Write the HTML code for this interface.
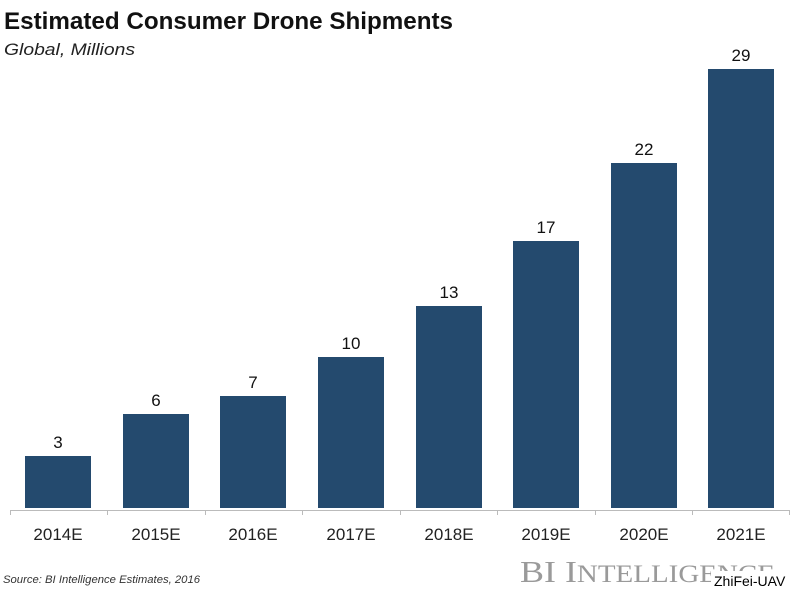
<!DOCTYPE html>
<html><head><meta charset="utf-8"><style>
body{margin:0;background:#fff;}
svg{display:block}
</style></head><body>
<svg width="800" height="590" xmlns="http://www.w3.org/2000/svg" font-family="Liberation Sans, sans-serif">
<rect width="800" height="590" fill="#fff"/>
<text x="4" y="29" font-size="24" font-weight="bold" fill="#111" textLength="449" lengthAdjust="spacingAndGlyphs">Estimated Consumer Drone Shipments</text>
<text x="4" y="55" font-size="17" font-style="italic" fill="#222" textLength="131" lengthAdjust="spacingAndGlyphs">Global, Millions</text>
<g fill="#244a6e">
<rect x="25" y="456" width="66" height="52"/>
<rect x="123" y="414" width="66" height="94"/>
<rect x="220" y="396" width="66" height="112"/>
<rect x="318" y="357" width="66" height="151"/>
<rect x="416" y="306" width="66" height="202"/>
<rect x="513" y="241" width="66" height="267"/>
<rect x="611" y="163" width="66" height="345"/>
<rect x="708" y="69" width="66" height="439"/>
</g>
<g font-size="17" fill="#111" text-anchor="middle">
<text x="58" y="448">3</text>
<text x="156" y="406">6</text>
<text x="253" y="388">7</text>
<text x="351" y="349">10</text>
<text x="449" y="298">13</text>
<text x="546" y="233">17</text>
<text x="644" y="155">22</text>
<text x="741" y="61">29</text>
</g>
<g stroke="#bbb" stroke-width="1">
<line x1="10" y1="510.5" x2="790" y2="510.5"/>
<line x1="10.5" y1="510" x2="10.5" y2="515"/>
<line x1="107.5" y1="510" x2="107.5" y2="515"/>
<line x1="205.5" y1="510" x2="205.5" y2="515"/>
<line x1="302.5" y1="510" x2="302.5" y2="515"/>
<line x1="400.5" y1="510" x2="400.5" y2="515"/>
<line x1="497.5" y1="510" x2="497.5" y2="515"/>
<line x1="595.5" y1="510" x2="595.5" y2="515"/>
<line x1="692.5" y1="510" x2="692.5" y2="515"/>
<line x1="789.5" y1="510" x2="789.5" y2="515"/>
</g>
<g font-size="17" fill="#222" text-anchor="middle">
<text x="58" y="540">2014E</text>
<text x="156" y="540">2015E</text>
<text x="253" y="540">2016E</text>
<text x="351" y="540">2017E</text>
<text x="449" y="540">2018E</text>
<text x="546" y="540">2019E</text>
<text x="644" y="540">2020E</text>
<text x="741" y="540">2021E</text>
</g>
<text x="3" y="583" font-size="11" font-style="italic" fill="#333" textLength="197" lengthAdjust="spacingAndGlyphs">Source: BI Intelligence Estimates, 2016</text>
<text x="520" y="582" font-family="Liberation Serif, serif" fill="#9a9a9a" font-size="31" textLength="255" lengthAdjust="spacingAndGlyphs">BI I<tspan font-size="25">NTELLIGENCE</tspan></text>
<rect x="711" y="571" width="80" height="19" fill="#fff"/>
<text x="714" y="586" font-size="14" fill="#000">ZhiFei-UAV</text>
</svg>
</body></html>
